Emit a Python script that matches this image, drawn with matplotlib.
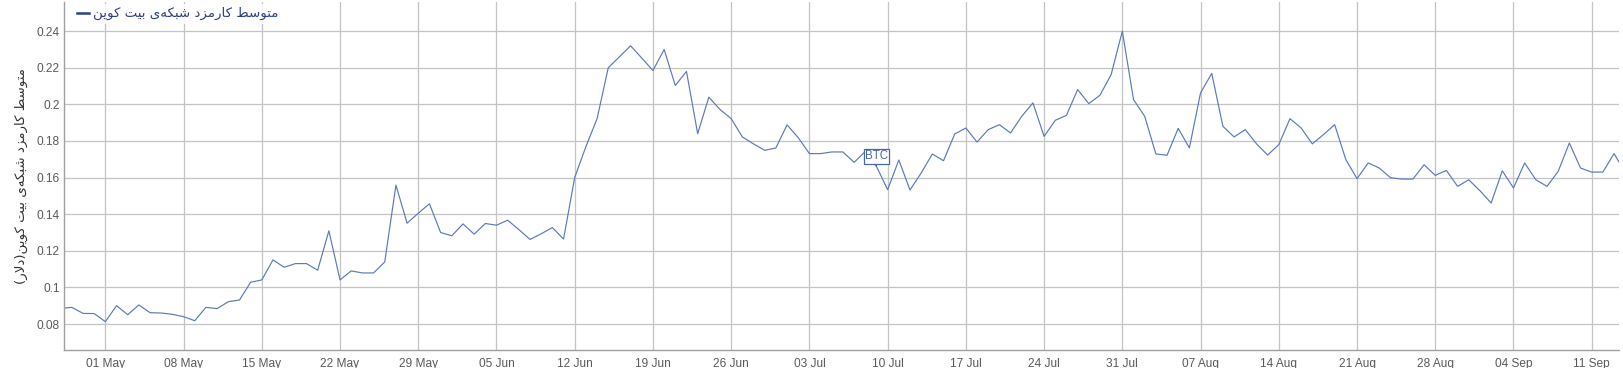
import matplotlib
matplotlib.use("Agg")
import matplotlib.pyplot as plt
import matplotlib.dates as mdates
import pandas as pd
import numpy as np

# ---------------- data ----------------
start_date = "2019-04-27"
fees = [
    # Apr 27-30
    0.0885, 0.0891, 0.0858, 0.0857,
    # May
    0.0813, 0.0900, 0.0851, 0.0904, 0.0862, 0.0860, 0.0853, 0.0840, 0.0818, 0.0891,
    0.0884, 0.0922, 0.0931, 0.1028, 0.1041, 0.1150, 0.1110, 0.1130, 0.1130, 0.1094,
    0.1309, 0.1041, 0.1090, 0.1079, 0.1079, 0.1139, 0.1559, 0.1351, 0.1405, 0.1457, 0.1300,
    # Jun
    0.1282, 0.1347, 0.1291, 0.1349, 0.1340, 0.1367, 0.1316, 0.1262, 0.1293, 0.1327,
    0.1264, 0.1601, 0.1769, 0.1922, 0.2200, 0.2260, 0.2320, 0.2253, 0.2185, 0.2300,
    0.2103, 0.2180, 0.1840, 0.2039, 0.1972, 0.1922, 0.1822, 0.1784, 0.1749, 0.1762,
    # Jul
    0.1888, 0.1818, 0.1731, 0.1731, 0.1740, 0.1740, 0.1683, 0.1743, 0.1661, 0.1534,
    0.1696, 0.1532, 0.1625, 0.1729, 0.1692, 0.1838, 0.1871, 0.1794, 0.1862, 0.1889,
    0.1844, 0.1935, 0.2008, 0.1825, 0.1913, 0.1940, 0.2081, 0.2004, 0.2050, 0.2163, 0.2400,
    # Aug
    0.2026, 0.1935, 0.1729, 0.1722, 0.1869, 0.1762, 0.2063, 0.2169, 0.1880, 0.1822,
    0.1862, 0.1785, 0.1723, 0.1780, 0.1922, 0.1871, 0.1784, 0.1835, 0.1889, 0.1698,
    0.1594, 0.1680, 0.1652, 0.1599, 0.1592, 0.1592, 0.1670, 0.1612, 0.1639, 0.1552, 0.1588,
    # Sep 1-14
    0.1528, 0.1461, 0.1637, 0.1543, 0.1680, 0.1588, 0.1552, 0.1634, 0.1789, 0.1652,
    0.1630, 0.1630, 0.1731, 0.1627,
]
dates = pd.date_range(start_date, periods=len(fees), freq="D")

y_ticks = [0.08, 0.10, 0.12, 0.14, 0.16, 0.18, 0.20, 0.22, 0.24]
x_tick_start = "2019-05-01"
x_tick_end = "2019-09-11"

series_name = "متوسط کارمزد شبکه‌ی بیت کوین"
y_title = "متوسط کارمزد شبکه‌ی بیت کوین(دلار)"
flag_label = "BTC"
flag_date = "2019-07-09"

# ---------- minimal Persian shaping (matplotlib has no complex text layout) ----------
FORMS = {  # isolated, final, initial, medial
    "\u0627": ("\uFE8D", "\uFE8E", None, None),
    "\u0628": ("\uFE8F", "\uFE90", "\uFE91", "\uFE92"),
    "\u062A": ("\uFE95", "\uFE96", "\uFE97", "\uFE98"),
    "\u062F": ("\uFEA9", "\uFEAA", None, None),
    "\u0631": ("\uFEAD", "\uFEAE", None, None),
    "\u0632": ("\uFEAF", "\uFEB0", None, None),
    "\u0633": ("\uFEB1", "\uFEB2", "\uFEB3", "\uFEB4"),
    "\u0634": ("\uFEB5", "\uFEB6", "\uFEB7", "\uFEB8"),
    "\u0637": ("\uFEC1", "\uFEC2", "\uFEC3", "\uFEC4"),
    "\u0644": ("\uFEDD", "\uFEDE", "\uFEDF", "\uFEE0"),
    "\u0645": ("\uFEE1", "\uFEE2", "\uFEE3", "\uFEE4"),
    "\u0646": ("\uFEE5", "\uFEE6", "\uFEE7", "\uFEE8"),
    "\u0647": ("\uFEE9", "\uFEEA", "\uFEEB", "\uFEEC"),
    "\u0648": ("\uFEED", "\uFEEE", None, None),
    "\u06A9": ("\uFB8E", "\uFB8F", "\uFB90", "\uFB91"),
    "\u06CC": ("\uFBFC", "\uFBFD", "\uFBFE", "\uFBFF"),
}


def dual(c):
    return c in FORMS and FORMS[c][2] is not None


def shape(text):
    chars = list(text)
    out = []
    i = 0
    n = len(chars)
    while i < n:
        c = chars[i]
        if c not in FORMS:
            if c != "\u200c":
                out.append(c)
            i += 1
            continue
        prev = chars[i - 1] if i > 0 else ""
        join_prev = dual(prev)
        # lam-alef ligature
        if c == "\u0644" and i + 1 < n and chars[i + 1] == "\u0627":
            out.append("\uFEFC" if join_prev else "\uFEFB")
            i += 2
            continue
        nxt = chars[i + 1] if i + 1 < n else ""
        join_next = dual(c) and nxt in FORMS
        f = FORMS[c]
        if join_prev and join_next:
            g = f[3]
        elif join_prev:
            g = f[1]
        elif join_next:
            g = f[2]
        else:
            g = f[0]
        out.append(g)
        i += 1
    vis = "".join(reversed(out))
    vis = vis.translate(str.maketrans({"(": ")", ")": "("}))
    return vis


# ---------------- figure ----------------
W, H, DPI = 1623, 368, 100
fig = plt.figure(figsize=(W / DPI, H / DPI), dpi=DPI)
fig.patch.set_facecolor("white")
ax = fig.add_axes([64 / W, 18 / H, (1619 - 64) / W, (366.5 - 18) / H])

line_color = "#5b79bd"
grid_color = "#c4c4c4"
axis_color = "#a0a0a0"
tick_color = "#5a5a5a"
legend_color = "#2d3e8c"

ax.plot(dates, fees, color=line_color, lw=0.85, label=shape(series_name))

# axes ranges
ax.set_ylim(0.0658, 0.2562)
ax.set_xlim(pd.Timestamp("2019-04-27") + pd.Timedelta(hours=7.2),
            pd.Timestamp("2019-09-13") + pd.Timedelta(hours=10.6))

ax.set_yticks(y_ticks)
ax.set_yticklabels([("%.2f" % v).rstrip("0") for v in y_ticks])
xt = pd.date_range(x_tick_start, x_tick_end, freq="7D")
ax.set_xticks(xt)
ax.set_xticklabels([d.strftime("%d %b") for d in xt])

ax.grid(True, color=grid_color, lw=0.9)
ax.set_axisbelow(True)
for s in ("top", "right"):
    ax.spines[s].set_visible(False)
for s in ("left", "bottom"):
    ax.spines[s].set_color(axis_color)
    ax.spines[s].set_linewidth(1.0)
ax.tick_params(axis="both", length=0, colors=tick_color, labelsize=8.6)
ax.tick_params(axis="x", pad=6)
ax.tick_params(axis="y", pad=3)
for lab in ax.get_xticklabels() + ax.get_yticklabels():
    lab.set_fontfamily(["Liberation Sans", "DejaVu Sans"])

ax.set_ylabel(shape(y_title), family=["DejaVu Sans"], fontsize=9.6,
              color="#333333", labelpad=6)

leg = ax.legend(loc="upper left", bbox_to_anchor=(0.006, 0.993), frameon=True,
                facecolor="white", edgecolor="none", framealpha=0.85,
                prop={"family": ["DejaVu Sans"], "size": 9.6},
                labelcolor=legend_color, handlelength=0.9, handletextpad=0.35,
                borderpad=0.25, borderaxespad=0.0, fancybox=False)
for h in leg.get_lines():
    h.set_color(legend_color)
    h.set_linewidth(1.8)

# flag on Jul 9
fd = pd.Timestamp(flag_date)
fv = fees[list(dates).index(fd)]
ax.annotate(flag_label, xy=(fd, fv), xytext=(0, 10), textcoords="offset pixels",
            ha="center", va="center", fontsize=8.3, color="#4a64ad",
            family=["Liberation Sans", "DejaVu Sans"],
            bbox=dict(boxstyle="square,pad=0.12", fc="white", ec="#4a64ad", lw=0.9),
            arrowprops=dict(arrowstyle="-", color="#4a64ad", lw=0.8,
                            shrinkA=0, shrinkB=0))

fig.savefig("out.png", dpi=DPI)
